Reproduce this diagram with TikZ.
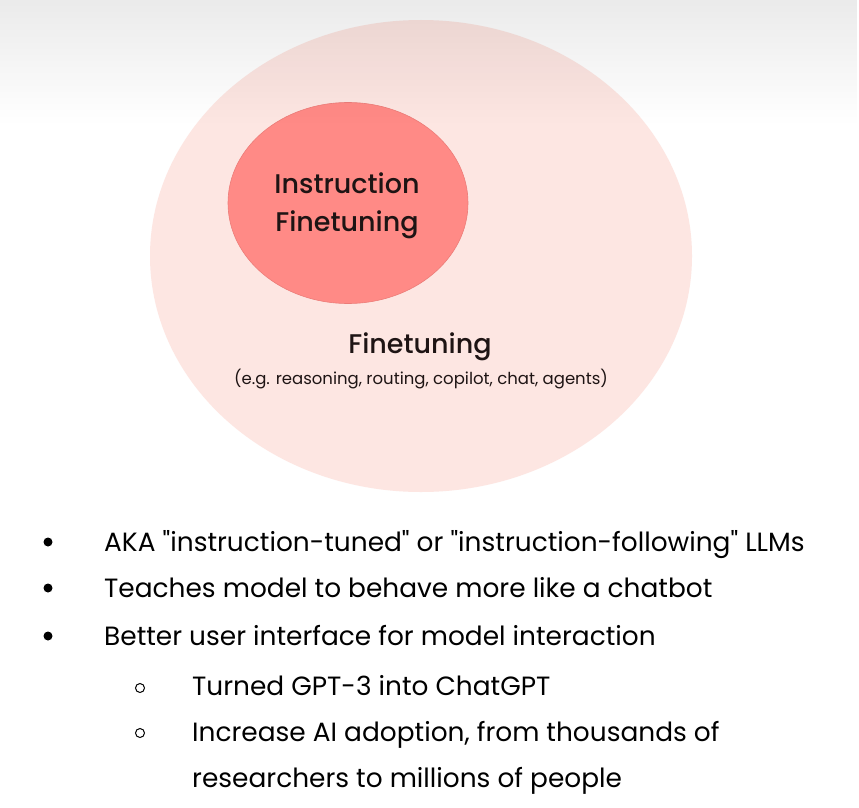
\documentclass[tikz,border=0pt]{standalone}
\usepackage{fontspec}
\setmainfont{Poppins}
\newfontfamily\popmed{Poppins Medium}
\usetikzlibrary{shapes.geometric,positioning,fadings}
\definecolor{outerpink}{HTML}{FDE6E2}
\definecolor{innerred}{HTML}{FF8A86}
\definecolor{innerline}{HTML}{EC7C78}
\definecolor{labeltext}{HTML}{1E1414}
\tikzfading[name=topfade, top color=transparent!92, bottom color=transparent!100]

\begin{document}
\begin{tikzpicture}[x=1pt, y=-1pt,
    circlabel/.style={align=center, font=\popmed\fontsize{27}{38}\selectfont, text=labeltext},
    bullettext/.style={anchor=base west, inner sep=0pt, font=\fontsize{26.4}{30}\selectfont},
    dotbullet/.style={circle, fill=black, inner sep=0pt, minimum size=9pt},
    ringbullet/.style={circle, draw=black, line width=1pt, inner sep=0pt, minimum size=9pt}]
    \useasboundingbox (0,0) rectangle (859,808);
    \fill[white] (0,0) rectangle (859,808);

    % Circles
    \node (outer) [ellipse, fill=outerpink, minimum width=542pt, minimum height=472pt] at (421,256) {};
    \node (inner) [ellipse, fill=innerred, draw=innerline, line width=0.6pt, minimum width=240pt, minimum height=201pt] at (348,203) {};
    \fill[black, path fading=topfade] (0,0) rectangle (859,125);

    % Labels
    \node (inlabel) [circlabel] at (347,206) {Instruction\\Finetuning};
    \node (outlabel) [circlabel] at (420,347) {Finetuning};
    \node (examples) [font=\fontsize{16.5}{20}\selectfont, text=labeltext] at (421,379) {(e.g. reasoning, routing, copilot, chat, agents)};

    % Bullets
    \node (b1) [dotbullet] at (48,542) {};
    \node (t1) [bullettext] at (104,551) {AKA \textquotedbl instruction-tuned\textquotedbl{} or \textquotedbl instruction-following\textquotedbl{} LLMs};
    \node (b2) [dotbullet] at (48,588) {};
    \node (t2) [bullettext] at (104,597) {Teaches model to behave more like a chatbot};
    \node (b3) [dotbullet] at (48,636) {};
    \node (t3) [bullettext] at (104,645) {Better user interface for model interaction};
    \node (s1) [ringbullet] at (140,688) {};
    \node (u1) [bullettext] at (192,695) {Turned GPT-3 into ChatGPT};
    \node (s2) [ringbullet] at (140,733) {};
    \node (u2) [bullettext] at (192,741) {Increase AI adoption, from thousands of};
    \node (u3) [bullettext] at (192,787) {researchers to millions of people};
\end{tikzpicture}
\end{document}
